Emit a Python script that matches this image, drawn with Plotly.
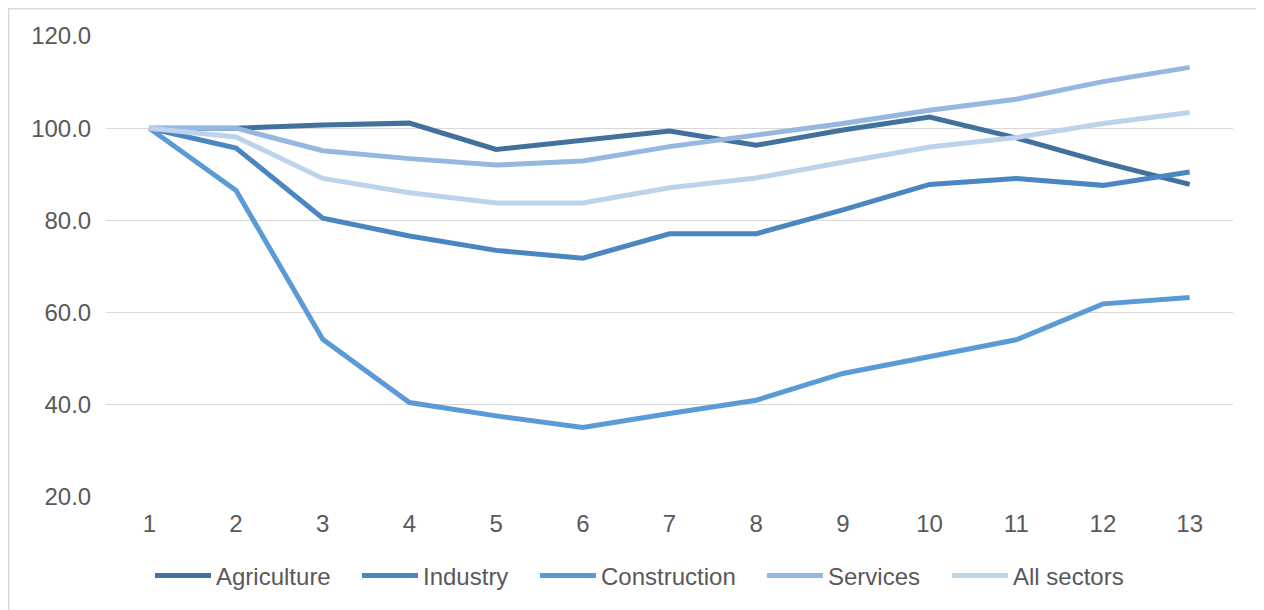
import plotly.graph_objects as go

periods = list(range(1, 14))
agriculture = [100.0, 100.0, 100.7, 101.1, 95.4, 97.3, 99.4, 96.3, 99.6, 102.4, 97.9, 92.6, 87.8]
industry = [100.0, 95.7, 80.5, 76.6, 73.5, 71.8, 77.1, 77.1, 82.3, 87.8, 89.1, 87.6, 90.5]
construction = [100.0, 86.5, 54.2, 40.5, 37.6, 35.1, 38.1, 41.0, 46.8, 50.5, 54.1, 61.9, 63.3]
services = [100.0, 100.0, 95.1, 93.4, 92.0, 92.9, 96.0, 98.4, 101.0, 103.9, 106.3, 110.1, 113.2]
all_sectors = [100.0, 98.1, 89.1, 86.0, 83.8, 83.8, 87.1, 89.2, 92.6, 95.9, 98.0, 101.0, 103.4]

series_names = ["Agriculture", "Industry", "Construction", "Services", "All sectors"]
series_values = [agriculture, industry, construction, services, all_sectors]
series_colors = ["#41719C", "#4A86BF", "#5B9BD5", "#95B8E0", "#BDD3EC"]

y_ticks = [20, 40, 60, 80, 100, 120]
y_tick_labels = ["20.0", "40.0", "60.0", "80.0", "100.0", "120.0"]

# figure is placed at (8, 8) in the page by the default body margin
W, H = 1256, 602
ML, MR, MT, MB = 98, 31, 28, 113
PW, PH = W - ML - MR, H - MT - MB
font_family = "Liberation Sans, Arial, sans-serif"
legend_ids = ["legend", "legend2", "legend3", "legend4", "legend5"]
legend_line_starts = [147, 354, 532, 759, 944]

fig = go.Figure()
for name, vals, col, lid in zip(series_names, series_values, series_colors, legend_ids):
    fig.add_trace(go.Scatter(
        x=periods, y=vals, name=name, mode="lines", legend=lid,
        line=dict(color=col, width=5, shape="linear"),
    ))

legend_layout = {}
for lid, xs in zip(legend_ids, legend_line_starts):
    legend_layout[lid] = dict(
        orientation="h", xref="container", yref="container",
        x=(xs - 5) / W, xanchor="left", y=1 - 568 / H, yanchor="middle",
        font=dict(family=font_family, size=24, color="#595959"),
        itemwidth=56, bgcolor="rgba(0,0,0,0)", borderwidth=0,
    )

fig.update_layout(
    width=W, height=H,
    margin=dict(l=ML, r=MR, t=MT, b=MB, autoexpand=False),
    paper_bgcolor="white", plot_bgcolor="white",
    font=dict(family=font_family, size=24, color="#595959"),
    showlegend=True,
    xaxis=dict(
        range=[0.5, 13.5], tickmode="array", tickvals=periods,
        ticktext=[str(p) for p in periods],
        showgrid=False, zeroline=False, showline=False,
        ticks="outside", ticklen=5, tickcolor="rgba(0,0,0,0)",
        tickfont=dict(size=24, color="#595959"),
    ),
    yaxis=dict(
        range=[20, 120], tickmode="array", tickvals=y_ticks, ticktext=y_tick_labels,
        showgrid=True, gridcolor="#D9D9D9", gridwidth=1.3, zeroline=False, showline=False,
        ticks="outside", ticklen=9, tickcolor="rgba(0,0,0,0)",
        tickfont=dict(size=24, color="#595959"),
    ),
    shapes=[dict(
        type="rect", xref="paper", yref="paper",
        x0=(0.7 - ML) / PW, x1=(1253 - ML) / PW,
        y0=(MT + PH - 610) / PH, y1=(MT + PH - 0.7) / PH,
        line=dict(color="#D9D9D9", width=1.5), fillcolor="rgba(0,0,0,0)", layer="below",
    )],
    **legend_layout,
)

fig.write_html("out.html")
